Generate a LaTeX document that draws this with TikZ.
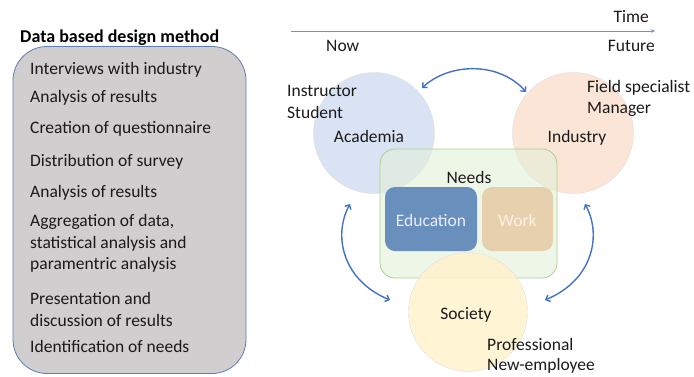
\documentclass[tikz,border=0pt]{standalone}
\usepackage{fontspec}
\setmainfont{Carlito}
\usetikzlibrary{arrows.meta}
\definecolor{arrowblue}{HTML}{4472C4}
\definecolor{timeblue}{HTML}{6F92CF}
\definecolor{boxgray}{HTML}{D0CECE}
\definecolor{boxedge}{HTML}{5E7DB3}
\definecolor{acafill}{HTML}{DAE3F3}
\definecolor{indfill}{HTML}{FBE5D6}
\definecolor{socfill}{HTML}{FFF2CC}
\definecolor{needfill}{HTML}{E2F0D9}
\definecolor{neededge}{HTML}{A9D18E}
\definecolor{edufill}{HTML}{6990BC}
\definecolor{workfill}{HTML}{E7D0AE}
\definecolor{txt}{HTML}{1A1A1A}
\begin{document}
\begin{tikzpicture}[x=1pt,y=-1pt,
  every node/.style={font=\fontsize{17.5}{21.5}\selectfont, text=txt, inner sep=0pt},
  lefttxt/.style={anchor=base west, align=left},
  bigcircle/.style={circle, minimum size=121pt, draw=gray!25, line width=0.4pt},
  twoway/.style={arrowblue, line width=1.4pt, {Straight Barb[length=3.5pt,width=7pt]}-{Straight Barb[length=3.5pt,width=7pt]}}
]
\useasboundingbox (0,0) rectangle (694,376);
% left method box
\node[draw=boxedge, fill=boxgray, line width=0.8pt, rounded corners=34pt,
      minimum width=233pt, minimum height=327pt] (method) at (129.5,210) {};
\node[anchor=base west, font=\fontsize{18}{21.5}\selectfont\bfseries, text=black] (title) at (20,42) {Data based design method};
\node[lefttxt] (s1) at (30,74) {Interviews with industry};
\node[lefttxt] (s2) at (30,102) {Analysis of results};
\node[lefttxt] (s3) at (30,133) {Creation of questionnaire};
\node[lefttxt] (s4) at (30,166) {Distribution of survey};
\node[lefttxt] (s5) at (30,197) {Analysis of results};
\node[anchor=north west, align=left] (s6) at (30,214.5) {Aggregation of data,\\statistical analysis and\\paramentric analysis};
\node[anchor=north west, align=left] (s7) at (30,292.5) {Presentation and\\discussion of results};
\node[lefttxt] (s8) at (30,352) {Identification of needs};
% time axis
\coordinate (tstart) at (291,31);
\coordinate (tend) at (655,31);
\draw[timeblue, line width=0.8pt, -{Stealth[length=4pt,width=3.5pt]}] (tstart) -- (tend);
\node[anchor=base east] (time) at (649,22) {Time};
\node[anchor=base west] (now) at (326,51) {Now};
\node[anchor=base east] (future) at (655,51) {Future};
% circles
\node[bigcircle, fill=acafill] (aca) at (374,133) {};
\node[bigcircle, fill=indfill] (ind) at (573,133) {};
% needs box
\node[draw=neededge, fill=needfill, fill opacity=0.6, line width=0.8pt, rounded corners=15pt,
      minimum width=177pt, minimum height=129pt] (needs) at (468.5,213.5) {};
\node[bigcircle, fill=socfill, fill opacity=0.85, minimum size=119pt] (soc) at (468,312) {};
% inner boxes
\node[fill=edufill, rounded corners=10pt, minimum width=92pt, minimum height=64pt] (edubox) at (431,219) {};
\node[fill=workfill, rounded corners=10pt, minimum width=71pt, minimum height=64pt] (workbox) at (517.5,219) {};
\node[anchor=base, text=white!92!blue] (edu) at (431,226) {Education};
\node[anchor=base, text=white!88!orange] (work) at (517.5,226) {Work};
\node[anchor=base] (needlbl) at (469,183) {Needs};
% labels
\node[anchor=base] (acalbl) at (369,142) {Academia};
\node[anchor=base] (indlbl) at (577,142) {Industry};
\node[anchor=base] (soclbl) at (466,319) {Society};
\node[lefttxt] (instr) at (287,96) {Instructor};
\node[lefttxt] (stud) at (287,118) {Student};
\node[lefttxt] (field) at (587,92) {Field specialist};
\node[lefttxt] (mgr) at (587,113) {Manager};
\node[lefttxt] (prof) at (487,350) {Professional};
\node[lefttxt] (newemp) at (487,370) {New-employee};
% two-way arrows
\coordinate (aTop) at (422,88);
\coordinate (iTop) at (526,92);
\coordinate (aBot) at (350,204);
\coordinate (sLeft) at (390,300);
\coordinate (iBot) at (585,204);
\coordinate (sRight) at (545,300);
\draw[twoway] (aTop) .. controls (450,62) and (500,62) .. (iTop);
\draw[twoway] (aBot) .. controls (333,235) and (342,280) .. (sLeft);
\draw[twoway] (iBot) .. controls (602,235) and (593,280) .. (sRight);
\end{tikzpicture}
\end{document}
